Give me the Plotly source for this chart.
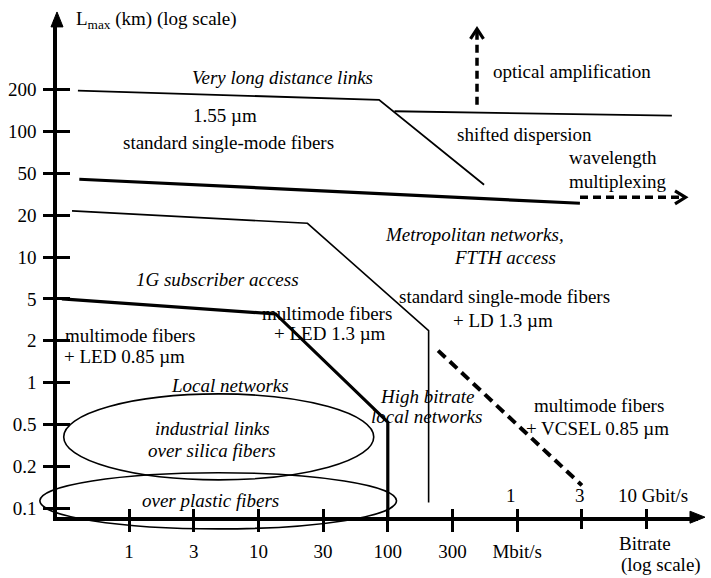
import numpy as np
import plotly.graph_objects as go

# ---------------- data ----------------
x_tick_vals = [1, 3, 10, 30, 100, 300, 1000, 3000, 10000]          # Mbit/s
x_tick_text = ["1", "3", "10", "30", "100", "300", "Mbit/s"]        # labels under the first ticks
y_tick_vals = [0.1, 0.2, 0.5, 1, 2, 5, 10, 20, 50, 100, 200]       # km
y_tick_text = ["0.1", "0.2", "0.5", "1", "2", "5", "10", "20", "50", "100", "200"]

# boundary curves: bitrate (Mbit/s) / Lmax (km)
smf155_bitrate = [0.42, 85, 540]
smf155_lmax = [197, 169, 39]
dsf_bitrate = [112, 16000]
dsf_lmax = [140, 130]
smf13_bitrate = [0.43, 2900]
smf13_lmax = [44, 26]
metro_bitrate = [0.38, 23, 200, 200]
metro_lmax = [22, 17.5, 2.5, 0.11]
led_bitrate = [0.32, 13.4, 100, 100]
led_lmax = [5, 3.6, 0.52, 0.086]
vcsel_bitrate = [235, 3000]
vcsel_lmax = [1.7, 0.146]

# elliptic regions: bitrate span / Lmax span
silica_bitrate = [0.33, 77]
silica_lmax = [0.16, 0.83]
plastic_bitrate = [0.22, 116]
plastic_lmax = [0.071, 0.18]


def scale(values, ticks):
    """Schematic log scale: equal spacing between successive ticks."""
    lt = np.log(np.asarray(ticks, float))
    lv = np.log(np.atleast_1d(np.asarray(values, float)))
    idx = np.arange(len(lt), dtype=float)
    pos = np.interp(lv, lt, idx)
    lo, hi = lv < lt[0], lv > lt[-1]
    pos[lo] = (lv[lo] - lt[0]) / (lt[1] - lt[0])
    pos[hi] = idx[-1] + (lv[hi] - lt[-1]) / (lt[-1] - lt[-2])
    return pos


def sx(v):
    return scale(v, x_tick_vals)


def sy(v):
    return scale(v, y_tick_vals)


# ---------------- geometry ----------------
W, H = 711, 578
X0PX, XSTEP = 129.0, 64.7      # pixel of first x tick, pixels per tick step
Y0PX, YSTEP = 510.0, 42.0      # pixel of first y tick, pixels per tick step
CORNER_X, CORNER_Y = 57.0, 519.0
XEND, YEND = 698.0, 20.0

FONT = "Liberation Serif"
FS = 19


def px2x(p):
    return (p - X0PX) / XSTEP


def px2y(p):
    return (Y0PX - p) / YSTEP


def PX(p):
    return p / W


def PY(p):
    return 1 - p / H


def path(points, close=False):
    s = "M " + " L ".join(f"{PX(a):.5f},{PY(b):.5f}" for a, b in points)
    return s + (" Z" if close else "")


fig = go.Figure()

main_xr = [px2x(CORNER_X), px2x(XEND)]
main_yr = [px2y(CORNER_Y), px2y(YEND)]
full_xr = [px2x(0), px2x(W)]
full_yr = [px2y(H), px2y(0)]

# empty traces so that the axis-only subplots are drawn
for xa, ya in [("x", "y"), ("x2", "y"), ("x4", "y"), ("x", "y2")]:
    fig.add_trace(go.Scatter(x=[], y=[], xaxis=xa, yaxis=ya, showlegend=False,
                             hoverinfo="skip"))


def curve(bx, ly, width, dash=None):
    fig.add_trace(go.Scatter(
        x=sx(bx), y=sy(ly), mode="lines", xaxis="x3", yaxis="y3",
        line=dict(color="black", width=width, dash=dash),
        showlegend=False, hoverinfo="skip"))


curve(smf155_bitrate, smf155_lmax, 1.8)
curve(dsf_bitrate, dsf_lmax, 1.8)
curve(smf13_bitrate, smf13_lmax, 3.2)
curve(metro_bitrate, metro_lmax, 1.6)
curve(led_bitrate, led_lmax, 3.2)
curve(vcsel_bitrate, vcsel_lmax, 4, "10px,6px")

shapes = []
for bx, ly in [(silica_bitrate, silica_lmax), (plastic_bitrate, plastic_lmax)]:
    xs, ys = sx(bx), sy(ly)
    shapes.append(dict(type="circle", xref="x3", yref="y3",
                       x0=xs[0], x1=xs[1], y0=ys[0], y1=ys[1],
                       line=dict(color="black", width=1.6)))

# dashed trend arrows (shafts + open chevron heads)
shapes.append(dict(type="line", xref="paper", yref="paper",
                   x0=PX(477), x1=PX(477), y0=PY(105), y1=PY(31),
                   line=dict(color="black", width=3.5, dash="8px,5px")))
shapes.append(dict(type="line", xref="paper", yref="paper",
                   x0=PX(580), x1=PX(683), y0=PY(198), y1=PY(198),
                   line=dict(color="black", width=3.5, dash="8px,5px")))
shapes.append(dict(type="path", xref="paper", yref="paper",
                   path=path([(470.5, 39), (477, 29), (483.5, 39)]),
                   line=dict(color="black", width=3.2)))
shapes.append(dict(type="path", xref="paper", yref="paper",
                   path=path([(675, 191.5), (685.5, 198), (675, 204.5)]),
                   line=dict(color="black", width=3.2)))
# axis arrowheads
shapes.append(dict(type="path", xref="paper", yref="paper",
                   path=path([(51, 27), (CORNER_X, 12), (63, 27)], close=True),
                   fillcolor="black", line=dict(color="black", width=1)))
shapes.append(dict(type="path", xref="paper", yref="paper",
                   path=path([(690, CORNER_Y - 6), (705, CORNER_Y), (690, CORNER_Y + 6)], close=True),
                   fillcolor="black", line=dict(color="black", width=1)))

ann = []


def label(text, x, y, italic=False, anchor="center"):
    ann.append(dict(text=f"<i>{text}</i>" if italic else text,
                    x=PX(x), y=PY(y), xref="paper", yref="paper",
                    xanchor=anchor, yanchor="middle", showarrow=False,
                    borderpad=0, font=dict(family=FONT, size=FS, color="black")))


label("Very long distance links", 282, 78, True)
label("1.55 µm", 225, 116)
label("standard single-mode fibers", 228, 143)
label("optical amplification", 572, 72)
label("shifted dispersion", 524, 135)
label("wavelength", 568, 158, anchor="left")
label("multiplexing", 568, 182, anchor="left")
label("Metropolitan networks,", 474, 235, True)
label("FTTH access", 505, 258, True)
label("1G subscriber access", 217, 280, True)
label("standard single-mode fibers", 504, 298)
label("+ LD 1.3 µm", 503, 322)
label("multimode fibers", 327, 315)
label("+ LED 1.3 µm", 330, 335)
label("multimode fibers", 64, 337, anchor="left")
label("+ LED 0.85 µm", 63, 358, anchor="left")
label("Local networks", 230, 387, True)
label("High bitrate", 427, 398, True)
label("local networks", 427, 418, True)
label("multimode fibers", 599, 407)
label("+ VCSEL 0.85 µm", 597, 430)
label("industrial links", 212, 430, True)
label("over silica fibers", 212, 452, True)
label("over plastic fibers", 210, 502, True)
label("1", 511, 497)
label("3", 580, 497)
label("10 Gbit/s", 617, 497, anchor="left")
label("Bitrate", 618, 545, anchor="left")
label("(log scale)", 620, 567, anchor="left")
label("L<sub>max</sub> (km) (log scale)", 75, 20, anchor="left")

tickfont = dict(family=FONT, size=FS, color="black")
common = dict(showgrid=False, zeroline=False, fixedrange=True)
xt = list(sx(x_tick_vals))

fig.update_layout(
    width=W, height=H, margin=dict(l=0, r=0, t=0, b=0),
    paper_bgcolor="white", plot_bgcolor="rgba(0,0,0,0)",
    showlegend=False,
    xaxis=dict(domain=[PX(CORNER_X), PX(XEND)], range=main_xr, anchor="y",
               tickmode="array", tickvals=xt[:len(x_tick_text)], ticktext=x_tick_text,
               ticks="outside", ticklen=11, tickwidth=2.5, tickcolor="black",
               showline=True, linewidth=3.5, linecolor="black",
               tickfont=tickfont, ticklabelstandoff=3, **common),
    xaxis2=dict(overlaying="x", anchor="y", range=main_xr,
                tickmode="array", tickvals=xt,
                ticks="inside", ticklen=8, tickwidth=2.5, tickcolor="black",
                showticklabels=False, showline=False, **common),
    xaxis4=dict(overlaying="x", anchor="y", range=main_xr,
                tickmode="array", tickvals=xt[len(x_tick_text):],
                ticks="outside", ticklen=11, tickwidth=2.5, tickcolor="black",
                showticklabels=False, showline=False, **common),
    yaxis=dict(domain=[PY(CORNER_Y), PY(YEND)], range=main_yr, anchor="x",
               tickmode="array", tickvals=list(sy(y_tick_vals)), ticktext=y_tick_text,
               ticks="outside", ticklen=10, tickwidth=2.5, tickcolor="black",
               showline=True, linewidth=3.5, linecolor="black",
               tickfont=tickfont, ticklabelstandoff=3, **common),
    yaxis2=dict(overlaying="y", anchor="x", range=main_yr,
                tickmode="array", tickvals=list(sy(y_tick_vals)),
                ticks="inside", ticklen=13, tickwidth=2.5, tickcolor="black",
                showticklabels=False, showline=False, **common),
    xaxis3=dict(domain=[0, 1], range=full_xr, anchor="y3", visible=False, **common),
    yaxis3=dict(domain=[0, 1], range=full_yr, anchor="x3", visible=False, **common),
    shapes=shapes,
    annotations=ann,
)

fig.write_html("out.html")
